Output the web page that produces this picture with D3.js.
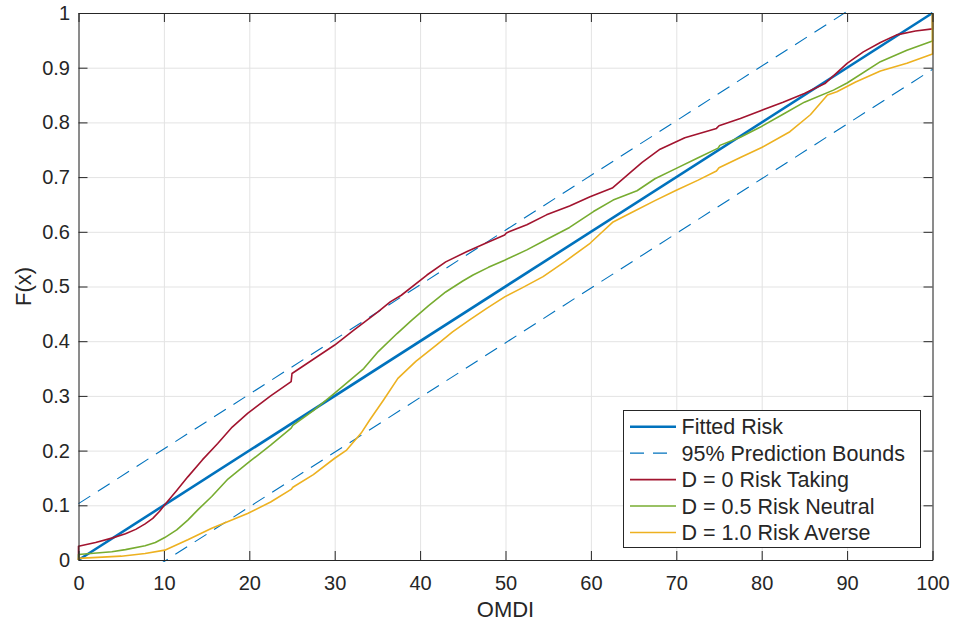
<!DOCTYPE html>
<html>

<head>
    <meta charset="UTF-8">
    <title>OMDI risk curves</title>
    <style>
        body {
            margin: 0;
            background: white;
        }

        svg text {
            font-family: "Liberation Sans", Arial, sans-serif;
            fill: #262626;
        }
    </style>
</head>

<body>
    <svg></svg>
    <script src="https://d3js.org/d3.v7.min.js"></script>
    <script>

        // chart values
        let xTicks = [0, 10, 20, 30, 40, 50, 60, 70, 80, 90, 100]
        let yTicks = [0, 0.1, 0.2, 0.3, 0.4, 0.5, 0.6, 0.7, 0.8, 0.9, 1]
        let yTickLabels = ["0", "0.1", "0.2", "0.3", "0.4", "0.5", "0.6", "0.7", "0.8", "0.9", "1"]

        let fitX = [0, 100]
        let fitY = [0, 1]
        let upperY = [0.103, 1.103]
        let lowerY = [-0.103, 0.897]

        let takingX = [0, 0, 2, 3.9, 5.5, 6.7, 7.8, 8.7, 9.5, 10.1, 11.5, 12.8, 14.5, 16.3, 18, 19.8, 22.5, 24.9, 25, 27.5,
            30, 32.2, 35.1, 36.5, 37.8, 40.8, 43, 45.5, 47.8, 49.9, 50.1, 52.5, 54.8, 57.5, 59.9, 62.5, 64.6, 66, 68.1, 71,
            74.7, 75, 77.5, 79.8, 82.5, 85, 87.4, 90, 91.9, 93.9, 95.8, 98, 100, 100]
        let takingY = [0, 0.025, 0.032, 0.04, 0.048, 0.056, 0.066, 0.076, 0.089, 0.101, 0.127, 0.152, 0.183, 0.213, 0.243, 0.268, 0.30, 0.326, 0.341, 0.367,
            0.393, 0.42, 0.454, 0.472, 0.484, 0.521, 0.545, 0.564, 0.58, 0.594, 0.598, 0.613, 0.631, 0.647, 0.664, 0.68, 0.708, 0.727, 0.751, 0.772,
            0.789, 0.794, 0.807, 0.821, 0.837, 0.853, 0.871, 0.908, 0.929, 0.946, 0.96, 0.967, 0.971, 1]

        let neutralX = [0, 0, 3.9, 5.5, 7.8, 9, 10.1, 11.5, 12.8, 14, 15.6, 17.5, 19.8, 22.5, 24.9, 25.1, 27.5, 30, 33.4, 35.1,
            37.3, 39, 41, 43, 45, 46.2, 48, 49.9, 52.5, 54.8, 57.5, 60.3, 62.6, 65.4, 67.5, 70, 72.5, 74.9, 75.1, 77.5,
            79.8, 82.5, 85, 88.4, 90, 93.9, 97, 100, 100]
        let neutralY = [0, 0.01, 0.015, 0.019, 0.026, 0.032, 0.041, 0.055, 0.073, 0.092, 0.116, 0.148, 0.177, 0.21, 0.241, 0.246, 0.273, 0.305, 0.35, 0.381,
            0.414, 0.438, 0.465, 0.49, 0.51, 0.521, 0.535, 0.548, 0.567, 0.586, 0.608, 0.637, 0.658, 0.675, 0.697, 0.716, 0.735, 0.753, 0.758, 0.773,
            0.791, 0.815, 0.837, 0.859, 0.872, 0.911, 0.932, 0.949, 1]

        let averseX = [0, 0, 5, 7.8, 10.1, 12.8, 15.6, 19.8, 22.5, 24.9, 25.1, 27.5, 30, 31.4, 33.1, 34.1, 35.7, 37.4, 39.5, 41.9,
            43.8, 45.8, 47.8, 49.9, 52, 54.4, 57, 59.9, 61, 62.6, 64.6, 67.5, 70, 72.5, 74.7, 75, 77.5, 80, 83.3, 85.7,
            87.7, 88.8, 91, 93.9, 97, 100, 100]
        let averseY = [0, 0.003, 0.007, 0.012, 0.018, 0.037, 0.058, 0.085, 0.106, 0.129, 0.133, 0.156, 0.186, 0.201, 0.232, 0.256, 0.292, 0.332, 0.363, 0.393,
            0.417, 0.439, 0.46, 0.481, 0.498, 0.518, 0.546, 0.579, 0.595, 0.618, 0.634, 0.657, 0.676, 0.694, 0.711, 0.717, 0.736, 0.754, 0.783, 0.814,
            0.85, 0.856, 0.874, 0.894, 0.908, 0.925, 1]

        let legendLabels = ["Fitted Risk", "95% Prediction Bounds", "D = 0 Risk Taking", "D = 0.5 Risk Neutral", "D = 1.0 Risk Averse"]

        let width = 955, height = 625
        let mLeft = 78.5, mRight = 932.5, mTop = 13, mBottom = 560

        let svg = d3.select("svg")
            .attr("width", width)
            .attr("height", height)

        let x = d3.scaleLinear().domain([0, 100]).range([mLeft, mRight])
        let y = d3.scaleLinear().domain([0, 1]).range([mBottom, mTop])

        // grid
        svg.append("g")
            .attr("transform", "translate(0," + mBottom + ")")
            .call(d3.axisBottom(x).tickValues(xTicks).tickSize(-(mBottom - mTop)).tickFormat(""))
            .call(g => g.select(".domain").remove())
            .selectAll("line")
            .attr("stroke", "#e3e3e3")

        svg.append("g")
            .attr("transform", "translate(" + mLeft + ",0)")
            .call(d3.axisLeft(y).tickValues(yTicks).tickSize(-(mRight - mLeft)).tickFormat(""))
            .call(g => g.select(".domain").remove())
            .selectAll("line")
            .attr("stroke", "#e3e3e3")

        svg.append("defs").append("clipPath")
            .attr("id", "plot")
            .append("rect")
            .attr("x", mLeft - 2)
            .attr("y", mTop - 2)
            .attr("width", mRight - mLeft + 4)
            .attr("height", mBottom - mTop + 4)

        let line = d3.line()
            .x(d => x(d[0]))
            .y(d => y(d[1]))

        let plot = svg.append("g").attr("clip-path", "url(#plot)")

        let series = [
            { xs: fitX, ys: upperY, color: "#0072BD", w: 1.1, dash: "14,9" },
            { xs: fitX, ys: lowerY, color: "#0072BD", w: 1.1, dash: "14,9" },
            { xs: fitX, ys: fitY, color: "#0072BD", w: 2.6, dash: null },
            { xs: takingX, ys: takingY, color: "#A2142F", w: 1.6, dash: null },
            { xs: neutralX, ys: neutralY, color: "#77AC30", w: 1.6, dash: null },
            { xs: averseX, ys: averseY, color: "#EDB120", w: 1.6, dash: null }
        ]

        series.forEach(s => {
            plot.append("path")
                .attr("d", line(d3.zip(s.xs, s.ys)))
                .attr("fill", "none")
                .attr("stroke", s.color)
                .attr("stroke-width", s.w)
                .attr("stroke-dasharray", s.dash)
                .attr("stroke-linejoin", "round")
        })

        // axes (box with inward ticks)
        let axisColor = "#262626"
        let tickLen = 9

        let xb = svg.append("g")
            .attr("transform", "translate(0," + mBottom + ")")
            .call(d3.axisBottom(x).tickValues(xTicks).tickSizeInner(-tickLen).tickSizeOuter(0).tickPadding(16))
        let xt = svg.append("g")
            .attr("transform", "translate(0," + mTop + ")")
            .call(d3.axisTop(x).tickValues(xTicks).tickSizeInner(-tickLen).tickSizeOuter(0).tickFormat(""))
        let yl = svg.append("g")
            .attr("transform", "translate(" + mLeft + ",0)")
            .call(d3.axisLeft(y).tickValues(yTicks).tickSizeInner(-tickLen).tickSizeOuter(0).tickPadding(8.5)
                .tickFormat((d, i) => yTickLabels[i]))
        let yr = svg.append("g")
            .attr("transform", "translate(" + mRight + ",0)")
            .call(d3.axisRight(y).tickValues(yTicks).tickSizeInner(-tickLen).tickSizeOuter(0).tickFormat(""))

        ;[xb, xt, yl, yr].forEach(g => {
            g.selectAll("line").attr("stroke", axisColor)
            g.select(".domain").attr("stroke", axisColor)
            g.selectAll("text")
                .attr("font-size", 20)
                .attr("font-family", "Liberation Sans, Arial, sans-serif")
                .attr("fill", axisColor)
        })

        // axis labels
        svg.append("text")
            .attr("x", (mLeft + mRight) / 2)
            .attr("y", 617)
            .attr("text-anchor", "middle")
            .attr("font-size", 22)
            .text("OMDI")

        svg.append("text")
            .attr("transform", "translate(31," + ((mTop + mBottom) / 2) + ") rotate(-90)")
            .attr("text-anchor", "middle")
            .attr("font-size", 22)
            .text("F(x)")

        // legend
        let legendColors = ["#0072BD", "#0072BD", "#A2142F", "#77AC30", "#EDB120"]
        let legendDash = [null, "14,9", null, null, null]
        let legendW = [2.6, 1.1, 1.6, 1.6, 1.6]

        let legend = svg.append("g")
            .attr("class", "legend")

        legend.append("rect")
            .attr("x", 623.5)
            .attr("y", 410.5)
            .attr("width", 297)
            .attr("height", 137)
            .attr("fill", "white")
            .attr("stroke", axisColor)
            .attr("stroke-width", 1)

        let item = legend.selectAll("g.item")
            .data(legendLabels)
            .enter().append("g")
            .attr("class", "item")
            .attr("transform", (d, i) => "translate(0," + (426.7 + i * 26.45) + ")")

        item.append("line")
            .attr("x1", 630)
            .attr("x2", 676)
            .attr("stroke", (d, i) => legendColors[i])
            .attr("stroke-width", (d, i) => legendW[i])
            .attr("stroke-dasharray", (d, i) => legendDash[i])

        item.append("text")
            .attr("x", 681.5)
            .attr("dy", "0.35em")
            .attr("font-size", 21.5)
            .attr("fill", "black")
            .text(d => d)

    </script>

</body>

</html>
